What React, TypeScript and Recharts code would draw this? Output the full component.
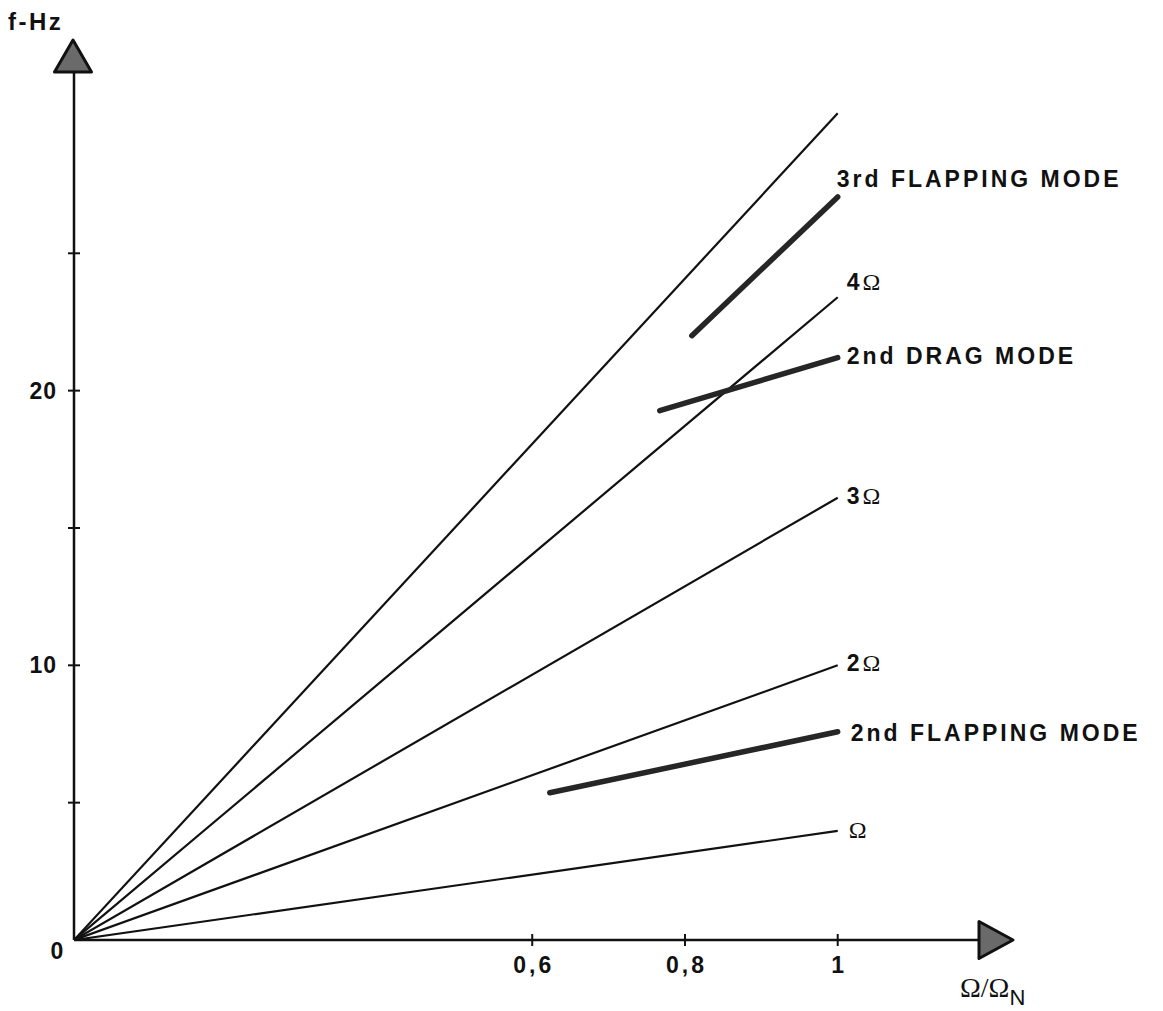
import React from 'react';
import { ComposedChart, Line, XAxis, YAxis, ReferenceDot, LabelList } from 'recharts';

// ---- data ----
const xTicks = [0.6, 0.8, 1];
const xTickLabels = ['0,6', '0,8', '1'];
const yTicks = [0, 5, 10, 15, 20, 25];
const yTickLabels = ['0', '', '10', '', '20', ''];

const harmonicX = [0, 1];
const harmonic1Y = [0, 3.97]; // Ω
const harmonic2Y = [0, 10.0]; // 2Ω
const harmonic3Y = [0, 16.1]; // 3Ω
const harmonic4Y = [0, 23.4]; // 4Ω
const harmonic5Y = [0, 30.1]; // unlabelled

const flap3X = [0.809, 1.0];
const flap3Y = [22.0, 27.05];
const drag2X = [0.767, 1.0];
const drag2Y = [19.27, 21.2];
const flap2X = [0.623, 1.0];
const flap2Y = [5.36, 7.58];

const X_MAX = 1.185;
const Y_MAX = 31.6;

const mk = (xs: number[], ys: number[], tag: string) =>
  xs.map((x, i) => ({ x, y: ys[i], tag: i === xs.length - 1 ? tag : '' }));

const dataH1 = mk(harmonicX, harmonic1Y, 'Ω');
const dataH2 = mk(harmonicX, harmonic2Y, '2Ω');
const dataH3 = mk(harmonicX, harmonic3Y, '3Ω');
const dataH4 = mk(harmonicX, harmonic4Y, '4Ω');
const dataH5 = mk(harmonicX, harmonic5Y, '');
const dataF3 = mk(flap3X, flap3Y, '3rd FLAPPING MODE');
const dataD2 = mk(drag2X, drag2Y, '2nd DRAG MODE');
const dataF2 = mk(flap2X, flap2Y, '2nd FLAPPING MODE');

// ---- styles ----
const FONT = '"Liberation Sans", Arial, Helvetica, sans-serif';
const SERIF = '"Liberation Serif", "DejaVu Serif", serif';
const INK = '#111';
const W = 1155;
const H = 1003;

const XTick = (props: any) => {
  const { x, y, payload } = props;
  const i = xTicks.indexOf(payload.value);
  return (
    <g>
      <line x1={x} x2={x} y1={y - 6} y2={y + 6} stroke={INK} strokeWidth={2} />
      <text x={x + 1.5} y={y + 33} textAnchor="middle" fontFamily={FONT} fontWeight="bold" fontSize={23} letterSpacing={3} fill={INK}>
        {i >= 0 ? xTickLabels[i] : ''}
      </text>
    </g>
  );
};

const YTick = (props: any) => {
  const { x, y, payload } = props;
  const i = yTicks.indexOf(payload.value);
  const lbl = i >= 0 ? yTickLabels[i] : '';
  if (payload.value === 0) {
    return (
      <text x={x - 17} y={y + 19} textAnchor="middle" fontFamily={FONT} fontWeight="bold" fontSize={23} fill={INK}>
        {lbl}
      </text>
    );
  }
  return (
    <g>
      <line x1={x - 6} x2={x + 6} y1={y} y2={y} stroke={INK} strokeWidth={2} />
      {lbl && (
        <text x={x - 17} y={y + 8} textAnchor="end" fontFamily={FONT} fontWeight="bold" fontSize={23} letterSpacing={1} fill={INK}>
          {lbl}
        </text>
      )}
    </g>
  );
};

const renderTag = (dx: number, dy: number) => (p: any) => {
  const v = p.value;
  if (!v) return null;
  const px = p.viewBox && p.viewBox.x != null ? p.viewBox.x : p.x;
  const py = p.viewBox && p.viewBox.y != null ? p.viewBox.y : p.y;
  const hasOmega = v.indexOf('Ω') >= 0;
  const prefix = hasOmega ? v.replace('Ω', '') : v;
  return (
    <text x={px + dx} y={py + dy} fontFamily={FONT} fontWeight="bold" fontSize={23} letterSpacing={hasOmega ? 1 : 3} fill={INK}>
      {prefix}
      {hasOmega && (
        <tspan fontFamily={SERIF} fontWeight="normal" fontSize={24} dx={prefix ? 2 : 0}>Ω</tspan>
      )}
    </text>
  );
};

const XArrow = (p: any) => {
  const { cx, cy } = p;
  return (
    <g>
      <polygon points={`${cx},${cy - 18.5} ${cx + 34},${cy} ${cx},${cy + 18.5}`} fill="#6a6a6a" stroke={INK} strokeWidth={3} strokeLinejoin="round" />
      <text x={cx - 19} y={cy + 57} fontFamily={SERIF} fontSize={28} fill={INK}>
        Ω/Ω<tspan fontFamily={FONT} fontSize={22} dy={8}>N</tspan>
      </text>
    </g>
  );
};

const YArrow = (p: any) => {
  const { cx, cy } = p;
  return (
    <g>
      <polygon points={`${cx - 19.5},${cy} ${cx - 1},${cy - 32} ${cx + 17.5},${cy}`} fill="#6a6a6a" stroke={INK} strokeWidth={3} strokeLinejoin="round" />
      <text x={cx - 66} y={cy - 42} fontFamily={FONT} fontWeight="bold" fontSize={24} letterSpacing={2.5} fill={INK}>
        f-Hz
      </text>
    </g>
  );
};

const thin = { stroke: INK, strokeWidth: 2.2, dot: false, activeDot: false, isAnimationActive: false, type: 'linear' as const };
const thick = { stroke: '#262626', strokeWidth: 5.5, strokeLinecap: 'round' as const, dot: false, activeDot: false, isAnimationActive: false, type: 'linear' as const };

export default function App() {
  return (
    <div style={{ width: W, height: H, background: '#fff' }}>
      <ComposedChart width={W} height={H} margin={{ top: 64, right: 184, bottom: 41, left: 6 }}>
        <XAxis
          dataKey="x"
          type="number"
          domain={[0, X_MAX]}
          ticks={xTicks}
          interval={0}
          allowDataOverflow
          height={30}
          axisLine={{ stroke: INK, strokeWidth: 2.5 }}
          tickLine={false}
          tickSize={0}
          tickMargin={0}
          tick={<XTick />}
        />
        <YAxis
          type="number"
          domain={[0, Y_MAX]}
          ticks={yTicks}
          interval={0}
          allowDataOverflow
          width={60}
          axisLine={{ stroke: INK, strokeWidth: 2.5 }}
          tickLine={false}
          tickSize={0}
          tickMargin={0}
          tick={<YTick />}
        />
        <Line data={dataH5} dataKey="y" {...thin} />
        <Line data={dataH4} dataKey="y" {...thin}>
          <LabelList dataKey="tag" content={renderTag(9, -7)} />
        </Line>
        <Line data={dataH3} dataKey="y" {...thin}>
          <LabelList dataKey="tag" content={renderTag(9, 6)} />
        </Line>
        <Line data={dataH2} dataKey="y" {...thin}>
          <LabelList dataKey="tag" content={renderTag(9, 6)} />
        </Line>
        <Line data={dataH1} dataKey="y" {...thin}>
          <LabelList dataKey="tag" content={renderTag(11, 7)} />
        </Line>
        <Line data={dataF3} dataKey="y" {...thick}>
          <LabelList dataKey="tag" content={renderTag(-1, -10)} />
        </Line>
        <Line data={dataD2} dataKey="y" {...thick}>
          <LabelList dataKey="tag" content={renderTag(9, 6)} />
        </Line>
        <Line data={dataF2} dataKey="y" {...thick}>
          <LabelList dataKey="tag" content={renderTag(13, 9)} />
        </Line>
        <ReferenceDot x={X_MAX} y={0} r={0} ifOverflow="visible" shape={XArrow} />
        <ReferenceDot x={0} y={Y_MAX} r={0} ifOverflow="visible" shape={YArrow} />
      </ComposedChart>
    </div>
  );
}
